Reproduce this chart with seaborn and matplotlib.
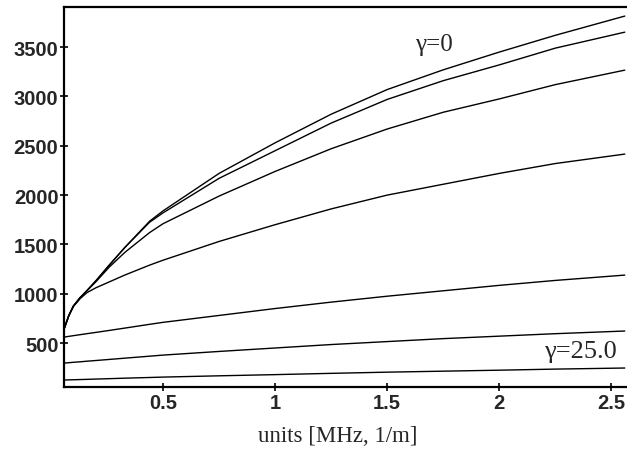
import seaborn as sns
import matplotlib.pyplot as plt
import pandas as pd

# frequency axis (shared by all curves)
freq = [0.058, 0.08, 0.1, 0.13, 0.16, 0.2, 0.26, 0.33, 0.44, 0.5,
        0.75, 1.0, 1.25, 1.5, 1.75, 2.0, 2.25, 2.56]

# curves, top (gamma=0) to bottom (gamma=25.0)
g0 = [640, 780, 875, 960, 1030, 1130, 1290, 1470, 1735, 1840,
      2220, 2530, 2820, 3070, 3270, 3450, 3620, 3815]
g1 = [640, 780, 875, 960, 1030, 1130, 1290, 1470, 1725, 1820,
      2170, 2450, 2730, 2970, 3160, 3320, 3490, 3652]
g2 = [640, 780, 875, 960, 1030, 1120, 1270, 1420, 1620, 1710,
      1990, 2240, 2470, 2670, 2840, 2975, 3120, 3267]
g3 = [640, 780, 870, 950, 1010, 1060, 1120, 1190, 1290, 1340,
      1530, 1700, 1860, 2000, 2110, 2220, 2320, 2416]
g4 = [560, 568, 575, 585, 595, 608, 628, 652, 690, 710,
      780, 850, 915, 975, 1030, 1085, 1135, 1189]
g5 = [297, 301, 305, 310, 316, 323, 334, 347, 367, 378,
      415, 450, 485, 515, 545, 570, 595, 622]
g6 = [125, 127, 128, 130, 132, 135, 139, 144, 151, 155,
      168, 180, 193, 205, 215, 225, 236, 247]

curves = {"g0": g0, "g1": g1, "g2": g2, "g3": g3, "g4": g4, "g5": g5, "g6": g6}
df = pd.concat([pd.DataFrame({"x": freq, "y": v, "curve": k}) for k, v in curves.items()])

sns.set_style("ticks")
plt.rcParams['font.family'] = ['Liberation Sans', 'DejaVu Sans']

fig = plt.figure(figsize=(6.27, 4.56), dpi=100)
ax = fig.add_axes([0.102, 0.149, 0.898, 0.833])

sns.lineplot(data=df, x="x", y="y", hue="curve", palette=["black"] * 7,
             linewidth=1.0, legend=False, ax=ax)

ax.set_xlim(0.058, 2.57)
ax.set_ylim(54, 3905)
ax.set_xticks([0.5, 1, 1.5, 2, 2.5])
ax.set_xticklabels(["0.5", "1", "1.5", "2", "2.5"])
ax.set_yticks([500, 1000, 1500, 2000, 2500, 3000, 3500])
ax.tick_params(direction="inout", length=6, width=1.2, color="black",
               labelsize=14.5, pad=1)
for lab in ax.get_xticklabels() + ax.get_yticklabels():
    lab.set_fontweight("bold")

for side in ["left", "bottom", "top"]:
    ax.spines[side].set_linewidth(1.6)
    ax.spines[side].set_color("black")
ax.spines["right"].set_visible(False)

ax.set_ylabel("")
ax.set_xlabel("units [MHz, 1/m]", family="Liberation Serif", fontsize=16.5)
ax.xaxis.set_label_coords(0.487, -0.1)

ax.text(1.71, 3530, "γ=0", family="Liberation Serif", fontsize=18, ha="center", va="center")
ax.text(2.36, 420, "γ=25.0", family="Liberation Serif", fontsize=19, ha="center", va="center")

fig.savefig("out.png", dpi=100)
